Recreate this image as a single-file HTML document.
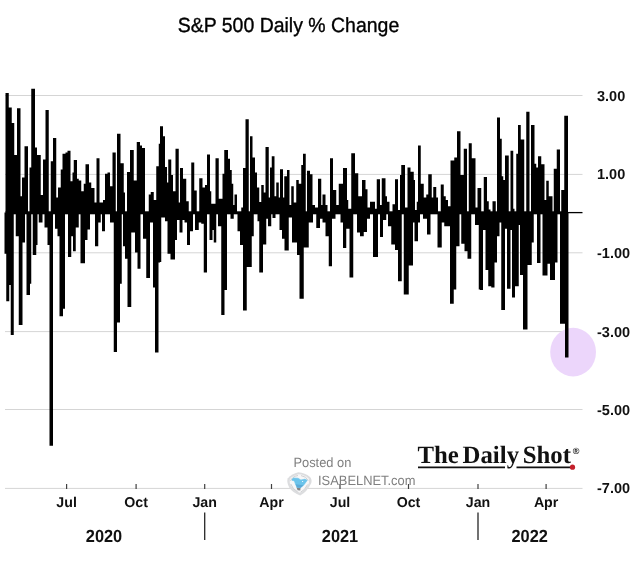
<!DOCTYPE html>
<html><head><meta charset="utf-8"><title>S&amp;P 500 Daily % Change</title>
<style>
html,body{margin:0;padding:0;background:#fff;}
body{width:640px;height:570px;overflow:hidden;font-family:"Liberation Sans",sans-serif;}
svg{display:block;}
text{text-rendering:geometricPrecision;}
text{filter:grayscale(1);}
text{font-family:"Liberation Sans",sans-serif;}
.serif{font-family:"Liberation Serif",serif;}
</style></head><body>
<svg width="640" height="570" viewBox="0 0 640 570">
<rect width="640" height="570" fill="#fff"/>
<text x="288.5" y="31.8" text-anchor="middle" font-size="20.4" fill="#000" stroke="#000" stroke-width="0.35" textLength="221.5" lengthAdjust="spacingAndGlyphs">S&amp;P 500 Daily % Change</text>
<g stroke="#d5d5d5" stroke-width="1"><line x1="5" x2="582.5" y1="95.5" y2="95.5"/><line x1="5" x2="582.5" y1="174.4" y2="174.4"/><line x1="5" x2="582.5" y1="252.8" y2="252.8"/><line x1="5" x2="582.5" y1="331.6" y2="331.6"/><line x1="5" x2="582.5" y1="409.5" y2="409.5"/><line x1="5" x2="582.5" y1="488.4" y2="488.4"/></g>
<ellipse cx="573.1" cy="352.1" rx="22.9" ry="24.3" fill="#ecd6fb"/>
<g fill="#000"><path d="M5.500 212.50V93.00H8.750V107.50H11.750V123.00H14.250V155.00H17.000V108.25H20.500V196.25H22.000V177.50H24.500V146.25H28.000V212.50ZM29.500 212.50V167.50H31.250V88.75H35.000V147.50H37.000V155.00H40.750V195.00H43.000V159.50H45.500V110.00H48.750V212.50ZM50.750 212.50V161.25H53.000V138.00H56.250V197.50H58.000V187.50H60.750V169.50H62.500V153.75H65.500V152.50H67.500V150.75H70.500V181.25H72.500V172.50H73.750V160.00H77.000V178.75H78.750V180.50H81.250V191.25H83.750V183.75H85.500V164.25H89.000V182.50H91.250V188.00H94.500V202.50H96.500V158.25H99.500V202.50H103.000V200.00H105.000V173.75H107.500V172.50H110.000V186.25H112.500V152.50H115.750V212.50ZM117.000 212.50V133.75H120.500V163.25H123.750V192.50H125.000V212.50ZM127.000 212.50V172.00H130.000V150.00H133.750V180.50H136.750V142.00H140.000V145.50H142.000V148.00H145.000V212.50ZM148.750 212.50V194.50H150.750V192.00H153.750V200.00H156.250V166.25H158.750V143.75H160.000V126.25H163.000V136.25H165.000V167.00H167.000V182.50H168.250V159.50H171.250V175.00H173.000V191.25H175.500V148.75H178.750V202.50H180.000V168.00H183.000V178.75H186.250V201.25H188.750V212.50ZM191.250 212.50V162.50H194.250V190.50H196.750V212.50ZM199.250 212.50V178.25H202.500V187.50H205.000V185.00H207.000V154.50H210.000V191.25H211.250V203.75H215.500V158.25H218.750V198.75H222.500V173.75H224.250V150.00H228.000V158.75H230.000V170.00H231.750V183.75H233.250V205.00H234.500V194.50H237.000V212.50ZM241.250 212.50V207.50H243.000V168.00H245.500V119.25H248.750V212.50ZM250.000 212.50V136.25H252.500V157.50H255.000V172.50H257.000V187.50H259.250V202.00H261.250V185.00H263.750V192.50H265.500V147.00H268.750V197.50H270.000V167.50H271.750V156.25H274.500V196.25H276.250V182.50H278.750V197.50H280.000V169.25H283.000V197.50H284.250V176.25H287.000V170.00H289.500V205.00H291.250V186.25H293.750V202.50H296.250V180.00H298.750V183.75H301.250V165.00H303.000V153.75H305.750V212.50ZM307.000 212.50V170.75H310.000V174.25H312.500V205.00H315.000V207.50H318.000V178.75H321.250V205.00H322.500V194.50H325.500V205.00H327.500V212.50ZM330.000 212.50V158.25H333.000V190.00H336.250V205.00H338.750V183.75H343.000V168.00H347.000V200.00H348.250V208.75H351.250V153.25H355.000V173.25H358.250V196.25H362.000V180.00H365.500V189.25H367.500V207.50H370.000V201.75H375.000V208.75H376.750V179.25H380.000V205.00H381.750V178.25H385.500V196.25H387.000V201.75H389.500V212.50ZM392.500 212.50V204.25H395.000V179.25H398.000V210.00H400.000V175.00H401.250V165.00H405.000V207.50H407.500V167.50H410.500V171.75H413.750V180.00H415.000V210.00H416.750V201.75H418.000V145.50H420.750V183.75H423.750V197.50H426.250V194.50H428.250V174.25H431.750V197.50H433.250V187.00H436.250V197.50H438.000V212.50ZM440.750 212.50V184.50H443.750V196.25H445.750V200.00H448.000V206.25H450.500V160.50H454.250V157.50H457.000V131.25H460.500V175.00H463.750V148.75H467.000V212.50ZM468.750 212.50V143.25H471.750V158.25H475.500V207.50H477.500V188.00H481.250V212.50ZM483.750 212.50V177.00H487.000V201.25H488.750V209.50H490.500V212.50ZM492.500 212.50V201.25H495.750V212.50ZM497.000 212.50V117.50H500.000V138.75H501.750V176.25H503.250V180.00H505.000V155.50H508.750V212.50ZM510.500 212.50V150.75H513.250V208.75H514.500V212.50ZM516.250 212.50V153.75H518.000V125.00H520.750V139.50H524.250V212.50ZM526.250 212.50V111.75H529.500V212.50ZM531.000 212.50V125.00H534.500V163.75H536.250V167.50H538.000V156.25H541.250V164.25H544.500V200.00H546.250V180.75H548.750V196.25H552.500V212.50ZM553.750 212.50V168.75H556.750V149.50H560.000V212.50ZM561.250 212.50V190.00H564.250V115.75H568.000V212.50Z"/><path d="M4.500 212.50V253.75H6.250V301.25H9.250V285.00H10.750V335.00H13.750V212.50ZM15.750 212.50V236.25H18.750V325.00H22.500V242.50H25.000V212.50ZM26.500 212.50V295.00H30.000V283.75H31.250V212.50ZM32.750 212.50V255.00H36.250V245.00H37.500V212.50ZM38.750 212.50V222.50H42.500V212.50ZM44.500 212.50V227.50H47.500V245.00H49.500V445.75H53.000V212.50ZM55.000 212.50V228.75H57.500V236.25H59.500V316.25H63.000V308.75H65.000V212.50ZM68.000 212.50V257.00H71.250V236.25H73.000V251.25H75.750V227.50H78.750V212.50ZM80.500 212.50V263.25H85.000V240.00H87.500V229.50H90.000V212.50ZM95.000 212.50V246.25H98.250V222.50H100.750V212.50ZM102.000 212.50V231.25H105.000V212.50ZM110.000 212.50V222.50H113.750V352.00H117.000V322.50H120.000V283.75H121.750V212.50ZM123.000 212.50V246.25H125.000V258.75H127.500V307.00H131.250V232.50H135.000V252.50H137.500V268.75H140.500V212.50ZM143.000 212.50V238.75H146.250V278.00H150.000V222.50H153.000V287.50H155.000V352.50H158.500V262.50H160.000V262.00H161.250V217.50H165.000V221.25H167.500V253.75H170.500V259.50H175.000V240.00H177.000V220.00H179.500V232.50H182.500V220.00H184.500V222.50H187.000V245.00H190.000V231.25H193.000V212.50ZM195.000 212.50V230.00H198.750V222.50H201.250V223.75H203.750V272.50H207.000V212.50ZM209.500 212.50V240.00H212.500V230.00H213.750V242.50H216.250V212.50ZM218.000 212.50V226.25H221.250V315.00H224.500V290.00H227.000V212.50ZM230.500 212.50V218.75H233.750V212.50ZM237.500 212.50V231.25H240.000V245.00H243.000V310.50H246.750V267.00H251.750V236.25H253.750V212.50ZM257.500 212.50V221.25H259.250V272.50H263.000V244.50H266.250V218.75H268.000V226.25H271.250V212.50ZM272.500 212.50V218.00H275.500V212.50ZM279.500 212.50V230.00H282.000V238.75H284.500V250.50H288.750V217.50H292.000V242.50H297.000V255.00H299.500V298.75H303.750V247.50H308.750V222.50H313.000V212.50ZM316.250 212.50V228.00H320.000V218.75H322.500V222.50H325.500V236.25H328.750V266.25H332.000V218.75H335.500V212.50ZM340.500 212.50V222.50H343.000V248.00H346.250V228.75H349.500V277.50H353.250V212.50ZM357.000 212.50V232.50H360.000V236.25H363.750V232.00H367.000V218.75H370.000V212.50ZM373.000 212.50V257.00H378.000V212.50ZM380.000 212.50V237.00H383.000V220.00H386.250V212.50ZM388.000 212.50V226.25H391.250V244.50H395.000V250.00H398.000V281.25H401.750V212.50ZM403.750 212.50V294.50H408.750V265.50H413.000V222.50H414.500V241.25H418.000V222.50H420.000V212.50ZM423.000 212.50V218.75H427.000V234.50H430.500V212.50ZM437.500 212.50V247.50H441.750V222.50H444.250V226.25H450.000V303.75H453.750V289.50H456.250V246.25H459.500V212.50ZM461.250 212.50V243.75H464.500V251.25H467.500V258.75H471.250V212.50ZM475.000 212.50V225.00H478.750V289.50H480.000V290.00H483.000V230.00H485.500V270.00H488.250V286.25H491.250V287.50H494.500V262.50H497.000V236.25H499.500V222.50H501.250V310.00H505.000V228.75H507.000V288.75H510.500V230.00H512.000V297.50H515.000V286.25H518.750V225.00H520.000V275.00H523.000V329.50H527.500V265.00H531.750V242.50H533.750V212.50ZM537.000 212.50V263.00H540.500V212.50ZM542.500 212.50V275.50H547.500V263.75H550.000V280.00H555.000V262.50H557.500V212.50ZM560.000 212.50V323.75H565.000V357.50H568.500V212.50Z"/><rect x="5.5" y="211.3" width="562.5" height="3"/></g>
<line x1="566" x2="582.5" y1="212.6" y2="212.6" stroke="#000" stroke-width="1.3"/>
<g stroke="#404040" stroke-width="1.2"><line x1="66.6" x2="66.6" y1="484" y2="489"/><line x1="136.1" x2="136.1" y1="484" y2="489"/><line x1="204.7" x2="204.7" y1="484" y2="489"/><line x1="271.5" x2="271.5" y1="484" y2="489"/><line x1="340.0" x2="340.0" y1="484" y2="489"/><line x1="408.5" x2="408.5" y1="484" y2="489"/><line x1="478.0" x2="478.0" y1="484" y2="489"/><line x1="546.1" x2="546.1" y1="484" y2="489"/></g>
<g stroke="#262626" stroke-width="1.3"><line x1="204.7" x2="204.7" y1="512.6" y2="540"/><line x1="478" x2="478" y1="512.6" y2="540"/></g>
<g font-size="14.5" font-weight="bold" fill="#111"><text x="597" y="100.6">3.00</text><text x="597" y="179.4">1.00</text><text x="597" y="258.1">-1.00</text><text x="597" y="336.9">-3.00</text><text x="597" y="414.6">-5.00</text><text x="597" y="493.4">-7.00</text></g>
<g font-size="14.2" font-weight="bold" fill="#111"><text x="66.6" y="506.5" text-anchor="middle">Jul</text><text x="136.1" y="506.5" text-anchor="middle">Oct</text><text x="204.7" y="506.5" text-anchor="middle">Jan</text><text x="271.5" y="506.5" text-anchor="middle">Apr</text><text x="340.0" y="506.5" text-anchor="middle">Jul</text><text x="408.5" y="506.5" text-anchor="middle">Oct</text><text x="478.0" y="506.5" text-anchor="middle">Jan</text><text x="546.1" y="506.5" text-anchor="middle">Apr</text></g>
<g font-size="17.6" font-weight="bold" fill="#111"><text x="85.8" y="541.6" textLength="36.4" lengthAdjust="spacingAndGlyphs">2020</text><text x="321.8" y="541.6" textLength="36.4" lengthAdjust="spacingAndGlyphs">2021</text><text x="511.5" y="541.6" textLength="36.4" lengthAdjust="spacingAndGlyphs">2022</text></g>
<!-- watermark -->
<g fill="#7f7f7f"><text x="293.4" y="467" font-size="13.3" textLength="58" lengthAdjust="spacingAndGlyphs">Posted on</text><text x="318" y="485.1" font-size="13.4" textLength="97.5" lengthAdjust="spacingAndGlyphs">ISABELNET.com</text></g>
<g id="isabel">
<path d="M287.6 478.6 Q292 473.5 298.3 472.2 Q305 472.6 310 477 Q312.3 479.5 311.3 483 Q307 492 300.2 495.6 Q293 493 289.2 487.5 Q286.6 482.5 287.6 478.6Z" fill="#dcdddf"/>
<path d="M289.8 479.2 Q293.5 475.2 298.6 474.3 Q304.5 474.6 308.3 478.3 Q309.8 480.3 309 483 Q305.6 490 300.2 493 Q294.6 490.8 291.3 486.3 Q289 482.3 289.8 479.2Z" fill="#f7f7f8"/>
<path d="M290.5 481 Q292 476.5 298 475.5 M301 475.6 Q306.5 476.5 308.2 480.5 M307.6 484.5 Q305 490.2 300.5 492.3 M297.5 491.8 Q292.5 489 290.8 484" fill="none" stroke="#cfd0d2" stroke-width="1"/>
<path d="M296.4 487.3 L300.6 487.3 L300.3 490.6 L297.6 490.2Z" fill="#858789"/>
<path d="M292 479.3 L293.4 478 L298.1 478.2 L300.9 480 L305 479.1 L307.2 480.3 L305.9 482.2 L303.8 485 L300.6 487.7 L296.9 487.3 L295.3 483.8 L294.4 480.9 L292 480.3Z" fill="#6cc4eb" stroke="#6cc4eb" stroke-width="0.6" stroke-linejoin="round"/>
<path d="M295.6 484.3 L303.6 485.2 L300.6 487.7 L296.9 487.3Z" fill="#5cabd8"/>
<circle cx="302.6" cy="481.5" r="0.6" fill="#fff"/>
</g>
<!-- The Daily Shot -->
<g class="serif"><text class="serif" x="417.5" y="463.2" font-size="25" font-weight="bold" fill="#111" word-spacing="-2.5" textLength="153.5" lengthAdjust="spacingAndGlyphs">The Daily Shot</text>
<text x="572.8" y="454.3" font-size="9" font-weight="bold" fill="#111" font-family="Liberation Sans">®</text></g>
<g stroke="#111" stroke-width="1.7"><line x1="418" x2="505" y1="467.4" y2="467.4"/><line x1="516.5" x2="571" y1="467.4" y2="467.4"/></g>
<circle cx="572.5" cy="467.2" r="2.6" fill="#c3202b"/>
</svg>
</body></html>
